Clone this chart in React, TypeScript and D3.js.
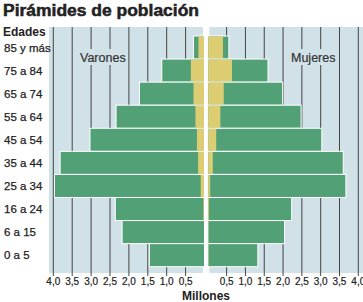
import React from "react";
import * as d3 from "d3";

const AGES = ["85 y más", "75 a 84", "65 a 74", "55 a 64", "45 a 54", "35 a 44", "25 a 34", "16 a 24", "6 a 15", "0 a 5"];
// millions
const MEN_TOTAL = [0.29, 1.13, 1.72, 2.34, 3.03, 3.82, 3.97, 2.36, 2.18, 1.46];
const MEN_OLD = [0.16, 0.36, 0.29, 0.24, 0.2, 0.17, 0.1, 0.03, 0.01, 0.01];
const WOMEN_TOTAL = [0.56, 1.6, 1.99, 2.48, 3.03, 3.6, 3.67, 2.23, 2.04, 1.33];
const WOMEN_OLD = [0.39, 0.63, 0.41, 0.32, 0.21, 0.12, 0.05, 0.02, 0.01, 0.01];
const TICKS = [0.5, 1, 1.5, 2, 2.5, 3, 3.5, 4];

const W = 363;
const H = 302;
const GREEN = "#52a176";
const YELLOW = "#dccd72";
const BG = "#d0e1e8";
const GRID = "#444";
const NARROW = "'Liberation Sans Narrow', 'Liberation Sans', Arial, sans-serif";
const BOLD = "'Liberation Sans', Arial, sans-serif";

const fmt = (v: number) => v.toFixed(1).replace(".", ",");

export default function App() {
  const xL = d3.scaleLinear().domain([0, 4]).range([204.5, 53.3]);
  const xR = d3.scaleLinear().domain([0, 4]).range([207.8, 358.3]);
  const y = d3.scaleBand().domain(AGES).range([36, 266.7]).padding(0);

  const plotTop = 27;
  const plotBottom = 273;

  return (
    <svg width={W} height={H} style={{ position: "absolute", left: 0, top: 0, background: "#fff" }}>
      <text x={3} y={16} fontFamily={BOLD} fontWeight="bold" fontSize={16} fill="#222" stroke="#222" strokeWidth={0.5}
        textLength={196} lengthAdjust="spacingAndGlyphs">
        Pirámides de población
      </text>
      <rect x={49} y={plotTop} width={W - 49} height={plotBottom - plotTop} fill={BG} />
      {TICKS.map((t) => (
        <g key={t}>
          <line x1={xL(t)} x2={xL(t)} y1={plotTop} y2={plotBottom + 3} stroke={GRID} strokeWidth={1} />
          <line x1={xR(t)} x2={xR(t)} y1={plotTop} y2={plotBottom + 3} stroke={GRID} strokeWidth={1} />
          <text x={xL(t)} y={285} textAnchor="middle" fontFamily={NARROW} fontSize={10} fill="#222" stroke="#222" strokeWidth={0.2}>{fmt(t)}</text>
          <text x={xR(t)} y={285} textAnchor="middle" fontFamily={NARROW} fontSize={10} fill="#222" stroke="#222" strokeWidth={0.2}>{fmt(t)}</text>
        </g>
      ))}
      <rect x={xL(0) - 1.5} y={plotTop} width={xR(0) - xL(0) + 3} height={plotBottom - plotTop} fill="#fff" />
      <rect x={77} y={49} width={48} height={16} fill={BG} />
      <rect x={288} y={49} width={47} height={16} fill={BG} />
      {AGES.map((a, i) => {
        const y0 = y(a) as number;
        const h = y.bandwidth();
        return (
          <g key={a}>
            <rect x={xL(MEN_TOTAL[i])} y={y0} width={xL(0) - xL(MEN_TOTAL[i])} height={h} fill={GREEN} stroke="#fff" strokeWidth={1} />
            <rect x={xR(0)} y={y0} width={xR(WOMEN_TOTAL[i]) - xR(0)} height={h} fill={GREEN} stroke="#fff" strokeWidth={1} />
            <rect x={xL(MEN_OLD[i])} y={y0 + 0.5} width={xL(0) - xL(MEN_OLD[i]) - 0.5} height={h - 1} fill={YELLOW} />
            <rect x={xR(0) + 0.5} y={y0 + 0.5} width={xR(WOMEN_OLD[i]) - xR(0)} height={h - 1} fill={YELLOW} />
            <text x={4} y={y0 + h / 2 + 4} fontFamily={NARROW} fontSize={11.5} fill="#222" stroke="#222" strokeWidth={0.25}>{a}</text>
          </g>
        );
      })}
      <text x={3} y={36} fontFamily={NARROW} fontWeight="bold" fontSize={12} fill="#222">Edades</text>
      <text x={80} y={62} fontFamily={NARROW} fontSize={12.5} fill="#333" stroke="#333" strokeWidth={0.2}>Varones</text>
      <text x={291} y={62} fontFamily={NARROW} fontSize={12.5} fill="#333" stroke="#333" strokeWidth={0.2}>Mujeres</text>
      <text x={206} y={300} textAnchor="middle" fontFamily={NARROW} fontWeight="bold" fontSize={12} fill="#222">Millones</text>
    </svg>
  );
}
